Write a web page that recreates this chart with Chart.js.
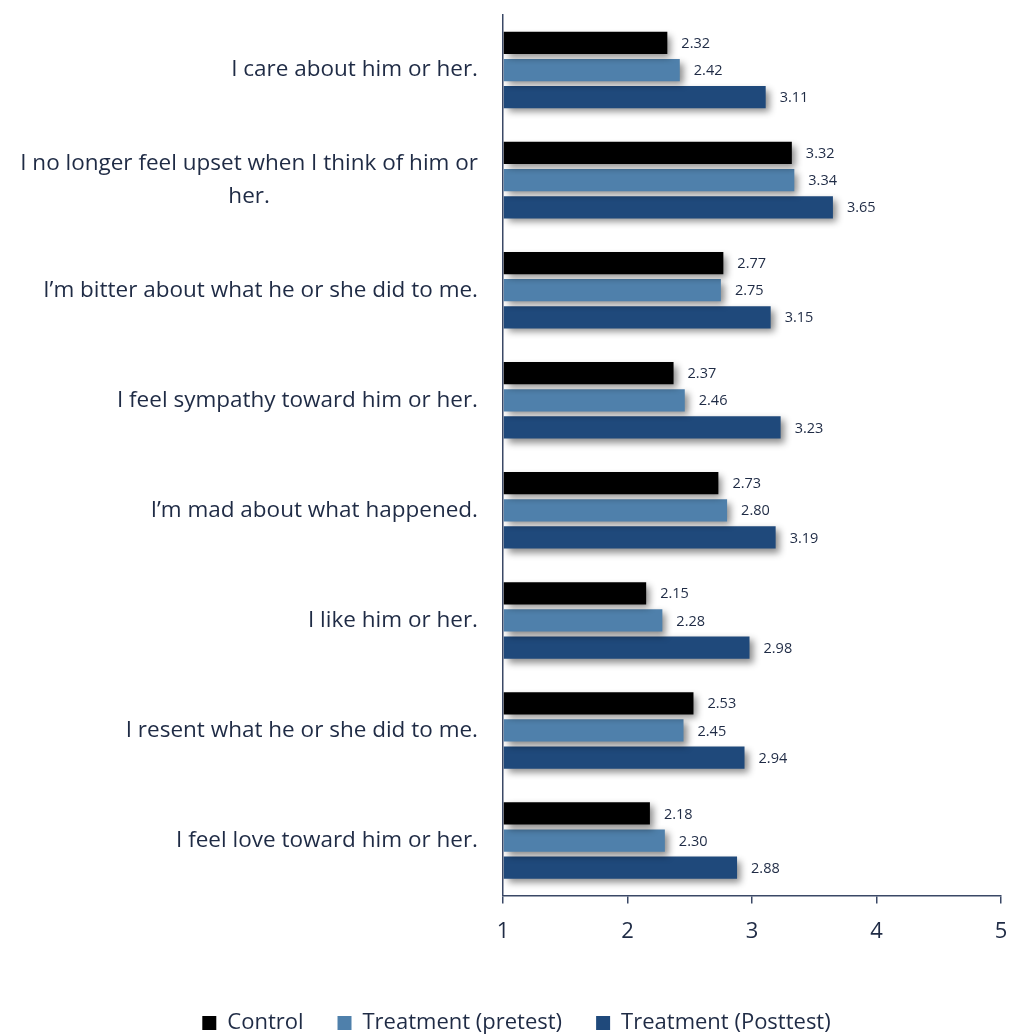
<!DOCTYPE html>
<html>
<head>
<meta charset="utf-8">
<script src="https://cdn.jsdelivr.net/npm/chart.js@4/dist/chart.umd.min.js"></script>
<style>
  html, body { margin: 0; padding: 0; background: #fff; }
  #wrap { width: 1009px; height: 1034px; }
</style>
</head>
<body>
<div id="wrap"><canvas id="grafico"></canvas></div>
<script>
// dados
const categorias = [
  ["I care about him or her."],
  ["I no longer feel upset when I think of him or", "her."],
  ["I\u2019m bitter about what he or she did to me."],
  ["I feel sympathy toward him or her."],
  ["I\u2019m mad about what happened."],
  ["I like him or her."],
  ["I resent what he or she did to me."],
  ["I feel love toward him or her."]
]
const controle = [2.32, 3.32, 2.77, 2.37, 2.73, 2.15, 2.53, 2.18]
const preteste = [2.42, 3.34, 2.75, 2.46, 2.80, 2.28, 2.45, 2.30]
const posteste = [3.11, 3.65, 3.15, 3.23, 3.19, 2.98, 2.94, 2.88]
const ticksX = [1, 2, 3, 4, 5]

const corTexto = '#1f2b45'
const fonte = '"Open Sans", "Noto Sans", sans-serif'

// sombra nas barras
const sombra = {
  id: 'sombra',
  beforeDatasetsDraw(chart) {
    const ctx = chart.ctx
    ctx.save()
    ctx.shadowColor = 'rgba(0,0,0,0.45)'
    ctx.shadowBlur = 7
    ctx.shadowOffsetX = 4
    ctx.shadowOffsetY = 4
  },
  afterDatasetsDraw(chart) {
    chart.ctx.restore()
  }
}

// valores no fim de cada barra
const rotulos = {
  id: 'rotulos',
  afterDatasetsDraw(chart) {
    const ctx = chart.ctx
    ctx.save()
    ctx.font = '14.5px ' + fonte
    ctx.fillStyle = corTexto
    ctx.textBaseline = 'middle'
    ctx.textAlign = 'left'
    chart.data.datasets.forEach((ds, i) => {
      chart.getDatasetMeta(i).data.forEach((bar, j) => {
        ctx.fillText(ds.data[j].toFixed(2), bar.x + 14, bar.y + 1)
      })
    })
    ctx.restore()
  }
}

// nomes das categorias (centralizadas quando tem duas linhas)
const nomes = {
  id: 'nomes',
  afterDraw(chart) {
    const ctx = chart.ctx
    const y = chart.scales.y
    ctx.save()
    ctx.font = '22.5px ' + fonte
    ctx.fillStyle = corTexto
    ctx.textAlign = 'center'
    ctx.textBaseline = 'middle'
    const direita = chart.chartArea.left - 25
    categorias.forEach((linhas, i) => {
      const larg = Math.max(...linhas.map(l => ctx.measureText(l).width))
      const cx = direita - larg / 2
      const cy = y.getPixelForValue(i)
      const alt = 33
      linhas.forEach((l, k) => {
        ctx.fillText(l, cx, cy + (k - (linhas.length - 1) / 2) * alt)
      })
    })
    ctx.restore()
  }
}

// empurra a legenda um pouco pra baixo e pra direita
const legendaBaixo = {
  id: 'legendaBaixo',
  afterLayout(chart) {
    chart.legend.top += 10
    chart.legend.bottom += 10
    chart.legend.left += 12
    chart.legend.right += 12
  }
}

const ctx = document.getElementById('grafico').getContext('2d')
const grafico = new Chart(ctx, {
  type: 'bar',
  data: {
    labels: categorias,
    datasets: [
      { label: 'Control', data: controle, backgroundColor: '#000000', base: 1 },
      { label: 'Treatment (pretest)', data: preteste, backgroundColor: '#4f80ab', base: 1 },
      { label: 'Treatment (Posttest)', data: posteste, backgroundColor: '#1f497b', base: 1 }
    ]
  },
  options: {
    indexAxis: 'y',
    responsive: true,
    maintainAspectRatio: false,
    animation: false,
    categoryPercentage: 0.74,
    barPercentage: 0.82,
    layout: { padding: { top: 15, right: 0, bottom: 0, left: 0 } },
    scales: {
      x: {
        min: 1,
        max: 5,
        afterBuildTicks(s) { s.ticks = ticksX.map(v => ({ value: v })) },
        afterFit(s) {
          s.height += 8
          s.paddingRight = 8
        },
        border: { color: '#3a4866', width: 1.5 },
        grid: { drawOnChartArea: false, tickLength: 8, color: '#3a4866', lineWidth: 1.5 },
        ticks: { color: corTexto, font: { family: fonte, size: 22 }, padding: 15 }
      },
      y: {
        afterFit(s) { s.width = 503 },
        border: { color: '#3a4866', width: 1.5 },
        grid: { display: false },
        ticks: { display: false }
      }
    },
    plugins: {
      legend: {
        position: 'bottom',
        labels: {
          color: corTexto,
          font: { family: fonte, size: 22 },
          boxWidth: 14,
          boxHeight: 14,
          padding: 34
        }
      },
      tooltip: { enabled: false }
    }
  },
  plugins: [sombra, rotulos, nomes, legendaBaixo]
})
</script>
</body>
</html>
